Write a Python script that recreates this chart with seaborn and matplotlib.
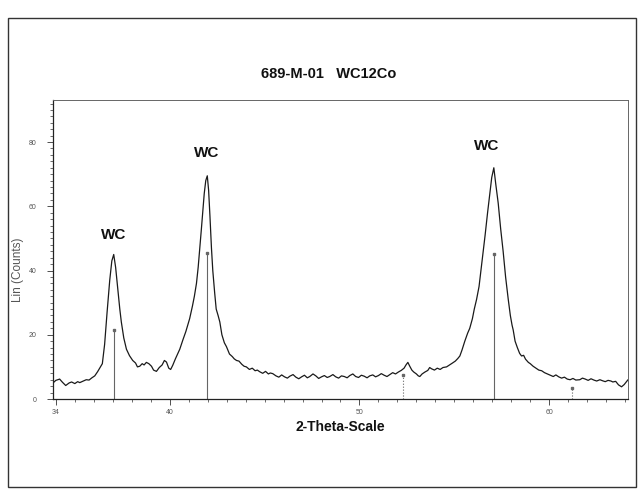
import numpy as np
import pandas as pd
import matplotlib
matplotlib.use("Agg")
import matplotlib.pyplot as plt
from matplotlib.patches import Rectangle
from matplotlib.ticker import MultipleLocator, FixedLocator
import seaborn as sns

# diffractogram (2-theta in degrees, counts)
two_theta = [
    33.85, 34.00, 34.20, 34.35, 34.52, 34.70, 34.83, 35.00, 35.15, 35.26,
    35.45, 35.60, 35.75, 35.90, 36.05, 36.20, 36.31, 36.45, 36.57, 36.70,
    36.84, 36.95, 37.05, 37.15, 37.27, 37.37, 37.45, 37.58, 37.72, 37.88,
    38.05, 38.20, 38.30, 38.42, 38.55, 38.65, 38.77, 38.90, 39.04, 39.15,
    39.30, 39.45, 39.60, 39.72, 39.83, 39.95, 40.05, 40.16, 40.30, 40.45,
    40.53, 40.70, 40.85, 41.05, 41.20, 41.30, 41.41, 41.50, 41.60, 41.67,
    41.75, 41.82, 41.90, 41.98, 42.05, 42.12, 42.20, 42.27, 42.37, 42.45,
    42.55, 42.64, 42.75, 42.88, 42.99, 43.15, 43.30, 43.40, 43.52, 43.65,
    43.80, 43.92, 44.04, 44.20, 44.35, 44.50, 44.62, 44.74, 44.90, 45.05,
    45.20, 45.30, 45.43, 45.60, 45.75, 45.90, 46.05, 46.20, 46.33, 46.50,
    46.65, 46.80, 46.95, 47.10, 47.25, 47.38, 47.55, 47.70, 47.85, 48.00,
    48.15, 48.30, 48.43, 48.60, 48.75, 48.90, 49.05, 49.20, 49.35, 49.49,
    49.65, 49.80, 49.95, 50.10, 50.25, 50.40, 50.54, 50.70, 50.85, 51.00,
    51.15, 51.30, 51.45, 51.60, 51.75, 51.90, 52.05, 52.20, 52.35, 52.45,
    52.55, 52.65, 52.76, 52.86, 53.00, 53.10, 53.18, 53.30, 53.45, 53.60,
    53.70, 53.80, 53.95, 54.10, 54.25, 54.40, 54.59, 54.75, 54.90, 55.05,
    55.18, 55.29, 55.40, 55.55, 55.70, 55.81, 55.95, 56.05, 56.17, 56.30,
    56.42, 56.52, 56.62, 56.75, 56.87, 56.97, 57.08, 57.18, 57.31, 57.44,
    57.57, 57.70, 57.84, 57.95, 58.04, 58.10, 58.20, 58.32, 58.44, 58.54,
    58.65, 58.75, 58.90, 59.00, 59.15, 59.30, 59.45, 59.60, 59.75, 59.90,
    60.05, 60.21, 60.35, 60.50, 60.65, 60.80, 60.95, 61.10, 61.25, 61.40,
    61.61, 61.75, 61.90, 62.05, 62.20, 62.35, 62.50, 62.67, 62.80, 62.95,
    63.10, 63.25, 63.35, 63.50, 63.65, 63.81, 63.95, 64.10, 64.15,
]
counts = [
    5.0, 5.8, 6.2, 5.2, 4.2, 5.0, 5.3, 4.8, 5.4, 5.1,
    5.6, 6.0, 5.9, 6.6, 7.2, 8.5, 9.6, 11.0, 17.0, 27.0,
    37.0, 43.0, 45.0, 41.0, 34.0, 28.0, 24.0, 19.0, 15.5, 13.5,
    12.0, 11.2, 10.0, 10.2, 11.0, 10.6, 11.4, 11.0, 10.2, 9.0,
    8.6, 9.8, 10.6, 12.0, 11.5, 9.6, 9.2, 10.5, 12.5, 14.5,
    15.5, 18.5, 21.0, 25.0, 29.0, 32.0, 36.0, 41.0, 48.0, 53.0,
    59.0, 64.0, 68.0, 69.5, 65.0, 57.0, 47.0, 40.0, 33.0, 28.0,
    26.0, 24.0, 20.0, 17.5, 16.3, 14.0, 13.2, 12.5, 12.0, 11.8,
    10.8, 10.2, 10.0, 9.2, 9.6, 8.8, 9.0, 8.5, 8.0, 8.6,
    7.8, 8.1, 7.9, 7.2, 6.8, 7.5, 6.9, 6.5, 7.1, 7.6,
    6.8, 6.3, 6.9, 7.4, 6.6, 7.0, 7.8, 7.2, 6.4, 6.9,
    7.3, 6.7, 7.0, 7.6, 6.9, 6.5, 7.2, 7.0, 6.6, 7.3,
    7.8, 7.0, 6.7, 7.4, 7.1, 6.6, 7.2, 7.5, 6.9, 7.3,
    7.9, 7.4, 7.0, 7.6, 8.2, 7.8, 8.4, 8.9, 9.6, 10.6,
    11.4, 10.2, 9.0, 8.4, 7.8, 7.2, 7.0, 7.8, 8.4, 8.9,
    9.8, 9.4, 9.0, 9.6, 9.2, 9.8, 10.0, 10.6, 11.2, 11.8,
    12.6, 13.4, 15.2, 18.0, 20.5, 22.0, 25.0, 28.0, 31.0, 35.0,
    41.0, 46.0, 51.0, 58.0, 64.0, 69.0, 72.0, 67.0, 61.0, 53.0,
    46.0, 38.0, 31.0, 26.0, 23.0, 21.5, 18.0, 16.0, 14.2, 13.4,
    13.6, 12.4, 11.4, 11.0, 10.2, 9.6, 9.0, 8.8, 8.2, 7.8,
    7.4, 7.0, 7.5, 6.9, 6.5, 6.8, 6.2, 6.0, 6.4, 5.9,
    6.0, 6.5, 6.2, 5.8, 6.3, 5.9, 5.6, 6.0, 5.7, 5.4,
    5.8, 5.6, 5.3, 5.5, 4.4, 3.8, 4.5, 5.6, 6.0,
]

# reference pattern sticks
stick_pos = [37.05, 41.98, 52.30, 57.08, 61.18]
stick_height = [21.5, 45.5, 7.5, 45.0, 3.3]

# phase labels
label_text = ["WC", "WC", "WC"]
label_x = [37.05, 41.95, 56.70]
label_y = [49.0, 74.5, 76.5]

x_ticks = [34, 40, 50, 60]

sns.set_style("white")
plt.rcParams["font.family"] = ["Liberation Sans", "DejaVu Sans"]

df = pd.DataFrame({"two_theta": two_theta, "counts": counts})

fig = plt.figure(figsize=(6.4, 4.94), dpi=100)
ax = fig.add_axes([53 / 640, 1 - 399 / 494, 575 / 640, 299 / 494])

# sticks first so the curve draws over them
for p, h in zip(stick_pos, stick_height):
    style = "-" if h > 15 else ":"
    ax.plot([p, p], [0, h], color="#666666", lw=0.8, ls=style, zorder=1)
    ax.plot([p], [h], marker="s", ms=2, color="#666666", zorder=1)

sns.lineplot(data=df, x="two_theta", y="counts", ax=ax, color="#1a1a1a",
             lw=0.9, zorder=2)

for t, x, y in zip(label_text, label_x, label_y):
    ax.text(x, y, t, ha="center", va="bottom", fontsize=11, fontweight="bold",
            color="#111111")

ax.set_xlim(33.85, 64.15)
ax.set_ylim(0, 93.1)
ax.xaxis.set_major_locator(FixedLocator(x_ticks))
ax.xaxis.set_minor_locator(MultipleLocator(1))
ax.yaxis.set_major_locator(MultipleLocator(20))
ax.yaxis.set_minor_locator(MultipleLocator(2))
ax.tick_params(axis="both", which="major", direction="out", length=4,
               width=0.6, labelsize=5, labelcolor="#555555", color="#333333")
ax.tick_params(axis="both", which="minor", direction="out", length=2.5,
               width=0.5, color="#333333")
ax.tick_params(axis="x", pad=3)
ax.tick_params(axis="y", pad=8)
ax.tick_params(bottom=True, left=True, which="both")

for side in ["left", "bottom"]:
    ax.spines[side].set_color("#222222")
    ax.spines[side].set_linewidth(0.9)
for side in ["top", "right"]:
    ax.spines[side].set_color("#666666")
    ax.spines[side].set_linewidth(0.7)

ax.set_xlabel("")
ax.set_ylabel("")

fig.text(329 / 640, 1 - 74 / 494, "689-M-01   WC12Co", ha="center",
         va="center", fontsize=10.5, fontweight="bold", color="#111111")
fig.text(340 / 640, 1 - 427 / 494, "2-Theta-Scale", ha="center",
         va="center", fontsize=10, fontweight="bold", color="#111111")
fig.text(18 / 640, 1 - 270 / 494, "Lin (Counts)", ha="center",
         va="center", rotation=90, fontsize=8.5, color="#555555")

# page frame around the whole scan
fig.patches.append(Rectangle((8 / 640, 1 - 487 / 494), 628 / 640,
                             469 / 494, transform=fig.transFigure,
                             fill=False, ec="#333333", lw=1.0))

fig.savefig("out.png", dpi=100)
